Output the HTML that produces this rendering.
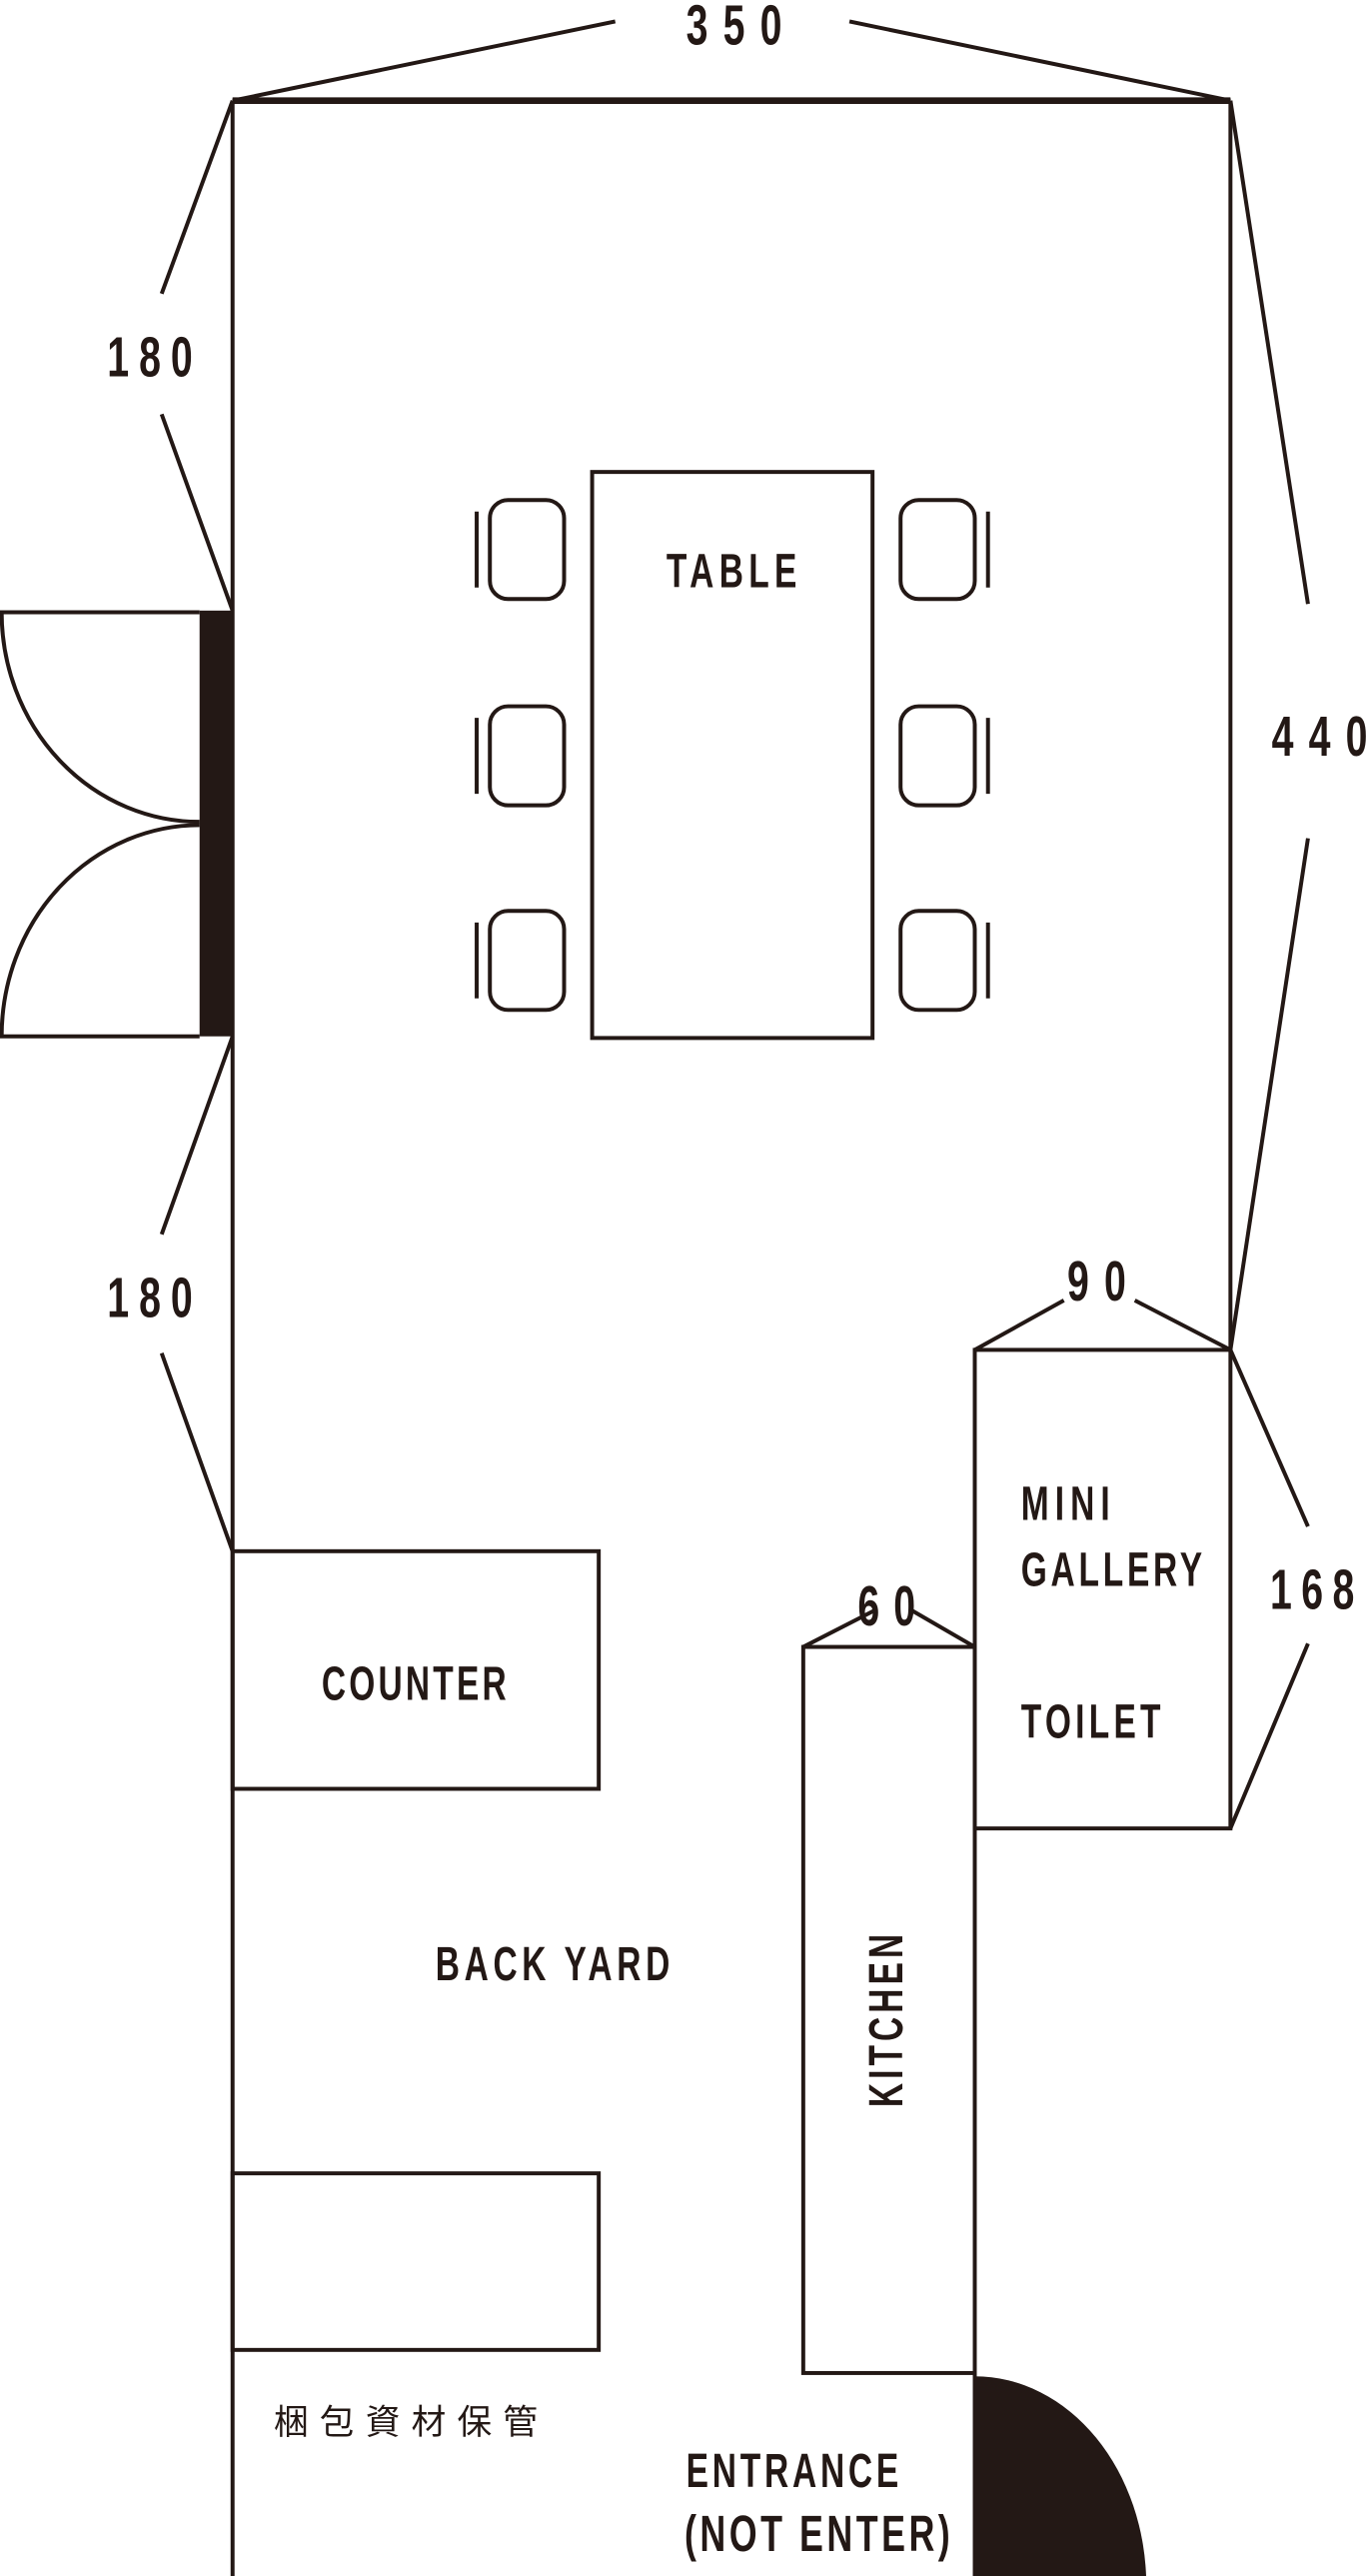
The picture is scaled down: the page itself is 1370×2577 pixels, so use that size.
<!DOCTYPE html>
<html><head><meta charset="utf-8"><style>
html,body{margin:0;padding:0;background:#fff;}
svg{display:block;}
text{font-family:"Liberation Sans Narrow","Liberation Sans",sans-serif;font-weight:bold;fill:#231815;}
.cj{font-family:"Liberation Sans","Noto Sans CJK JP",sans-serif;font-weight:normal;}
</style></head><body>
<svg width="1370" height="2577" viewBox="0 0 830 1561" preserveAspectRatio="none" xmlns="http://www.w3.org/2000/svg">
<g fill="none" stroke="#231815" stroke-width="2.4">
<line x1="373" y1="13" x2="141" y2="61"/>
<line x1="515" y1="13" x2="746" y2="61"/>
<line x1="98" y1="178" x2="141" y2="61"/>
<line x1="98" y1="251" x2="141" y2="370"/>
<line x1="141" y1="628" x2="98" y2="748"/>
<line x1="98" y1="820" x2="141" y2="940"/>
<line x1="746" y1="61" x2="793" y2="366"/>
<line x1="793" y1="508" x2="746" y2="818"/>
<line x1="591" y1="818" x2="645" y2="788"/>
<line x1="688" y1="788" x2="746" y2="818"/>
<line x1="746" y1="818" x2="793" y2="925"/>
<line x1="793" y1="996" x2="746" y2="1108"/>
<line x1="487" y1="998" x2="530" y2="976"/>
<line x1="553" y1="976" x2="591" y2="998"/>
<line x1="141" y1="61" x2="746" y2="61" stroke-width="4"/>
<line x1="141" y1="61" x2="141" y2="1567"/>
<line x1="746" y1="61" x2="746" y2="818"/>
<line x1="141" y1="1566" x2="591" y2="1566"/>
<line x1="591" y1="1438" x2="591" y2="1567"/>
<line x1="0" y1="371" x2="121" y2="371"/>
<line x1="0" y1="628" x2="121" y2="628"/>
<path d="M1 371 A120 127 0 0 0 121 498"/>
<path d="M121 500 A120 128 0 0 0 1 628"/>
<rect x="359" y="286" width="170" height="343"/>
<rect x="297" y="303" width="45" height="60" rx="11"/>
<rect x="297" y="428" width="45" height="60" rx="11"/>
<rect x="297" y="552" width="45" height="60" rx="11"/>
<rect x="546" y="303" width="45" height="60" rx="11"/>
<rect x="546" y="428" width="45" height="60" rx="11"/>
<rect x="546" y="552" width="45" height="60" rx="11"/>
<line x1="289" y1="310" x2="289" y2="356"/>
<line x1="289" y1="435" x2="289" y2="481"/>
<line x1="289" y1="559" x2="289" y2="605"/>
<line x1="599" y1="310" x2="599" y2="356"/>
<line x1="599" y1="435" x2="599" y2="481"/>
<line x1="599" y1="559" x2="599" y2="605"/>
<rect x="591" y="818" width="155" height="290"/>
<rect x="487" y="998" width="104" height="440"/>
<rect x="141" y="940" width="222" height="144"/>
<rect x="141" y="1317" width="222" height="107"/>
</g>
<rect x="121" y="370" width="20" height="258" fill="#231815"/>
<path d="M591 1440 A104 127 0 0 1 695 1567 L591 1567 Z" fill="#231815"/>
<g font-size="34">
<text transform="translate(416,27) scale(0.7,1)" textLength="83" lengthAdjust="spacing">350</text>
<text transform="translate(65,228) scale(0.7,1)" textLength="74" lengthAdjust="spacing">180</text>
<text transform="translate(65,798) scale(0.7,1)" textLength="74" lengthAdjust="spacing">180</text>
<text transform="translate(771,458) scale(0.7,1)" textLength="83" lengthAdjust="spacing">440</text>
<text transform="translate(647,788) scale(0.7,1)" textLength="51" lengthAdjust="spacing">90</text>
<text transform="translate(770,975) scale(0.7,1)" textLength="73" lengthAdjust="spacing">168</text>
<text transform="translate(520,985) scale(0.7,1)" textLength="50" lengthAdjust="spacing">60</text>
</g>
<g font-size="29">
<text transform="translate(404,356) scale(0.7,1)" textLength="113" lengthAdjust="spacing">TABLE</text>
<text transform="translate(619,921) scale(0.7,1)" textLength="77" lengthAdjust="spacing">MINI</text>
<text transform="translate(619,961) scale(0.7,1)" textLength="157" lengthAdjust="spacing">GALLERY</text>
<text transform="translate(619,1053) scale(0.7,1)" textLength="121" lengthAdjust="spacing">TOILET</text>
<text transform="translate(195,1030) scale(0.7,1)" textLength="160" lengthAdjust="spacing">COUNTER</text>
<text transform="translate(264,1200) scale(0.7,1)" textLength="203" lengthAdjust="spacing">BACK YARD</text>
<text transform="translate(416,1507) scale(0.7,1)" textLength="184" lengthAdjust="spacing">ENTRANCE</text>
<text transform="translate(415,1546) scale(0.7,1)" textLength="230" lengthAdjust="spacing" font-size="31">(NOT ENTER)</text>
<text transform="translate(547,1277) rotate(-90) scale(0.7,1)" textLength="150" lengthAdjust="spacing">KITCHEN</text>
</g>
<text class="cj" x="166" y="1475" font-size="21" textLength="160" lengthAdjust="spacing">梱包資材保管</text>
</svg>
</body></html>
